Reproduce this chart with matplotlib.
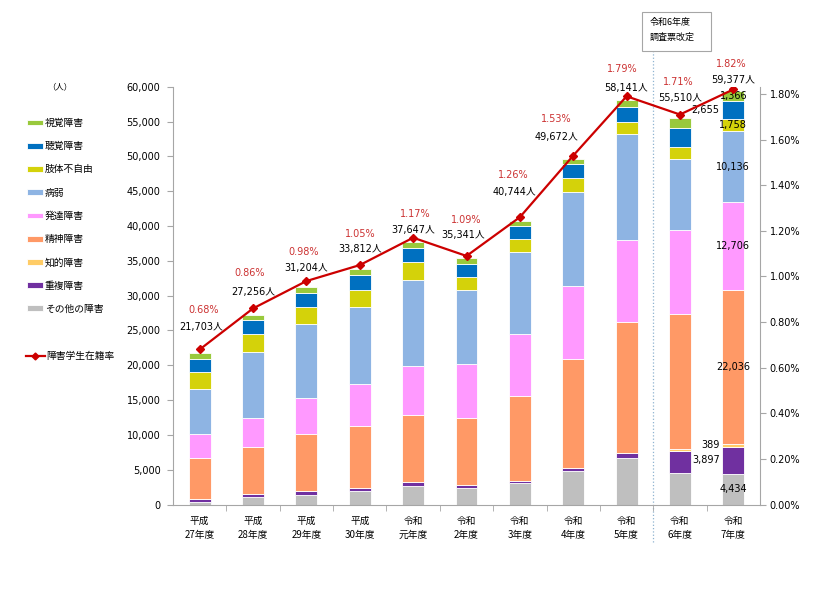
import matplotlib
matplotlib.use("Agg")
import matplotlib.pyplot as plt
from matplotlib.lines import Line2D
from matplotlib.patches import Rectangle

# ---- data ----
years = ["平成\n27年度", "平成\n28年度", "平成\n29年度", "平成\n30年度",
         "令和\n元年度", "令和\n2年度", "令和\n3年度", "令和\n4年度",
         "令和\n5年度", "令和\n6年度", "令和\n7年度"]

other = [400, 1050, 1350, 2000, 2740, 2400, 3050, 4800, 6700, 4500, 4434]
multiple = [350, 480, 570, 430, 470, 380, 380, 470, 650, 3150, 3897]
intellectual = [0, 0, 0, 0, 0, 0, 0, 0, 0, 380, 389]
mental = [5900, 6750, 8200, 8800, 9600, 9650, 12200, 15700, 18800, 19400, 22036]
developmental = [3450, 4200, 5250, 6100, 7100, 7700, 8850, 10400, 11850, 12000, 12706]
illness = [6450, 9400, 10500, 11100, 12400, 10700, 11750, 13450, 15250, 10150, 10136]
physical = [2550, 2650, 2500, 2400, 2480, 1900, 1900, 2050, 1650, 1800, 1758]
hearing = [1750, 1950, 1970, 2100, 2000, 1830, 1830, 2000, 2250, 2700, 2655]
visual = [853, 776, 864, 882, 857, 781, 784, 802, 991, 1430, 1366]

totals = [21703, 27256, 31204, 33812, 37647, 35341, 40744, 49672, 58141, 55510, 59377]
rates = [0.68, 0.86, 0.98, 1.05, 1.17, 1.09, 1.26, 1.53, 1.79, 1.71, 1.82]

series_names = ["その他の障害", "重複障害", "知的障害", "精神障害", "発達障害",
                "病弱", "肢体不自由", "聴覚障害", "視覚障害"]
series_values = [other, multiple, intellectual, mental, developmental,
                 illness, physical, hearing, visual]
series_colors = ["#BFBFBF", "#7030A0", "#FFCC66", "#FF9966", "#FF99FF",
                 "#8EB4E3", "#D4D20A", "#0070C0", "#99C93C"]
line_name = "障害学生在籍率"

# label placement (pixels, relative to line marker)
rate_dx = [3.6, -3.1, -3.2, 0.1, 1.7, 0, -6.8, -16.8, -4.2, -2, -2]
rate_dy = [39, 35, 29, 31, 24, 35.7, 42, 36.7, 27.4, 32.6, 25.6]
total_dx = [1, 0.2, 0.2, 0.1, 0, -3.4, -5.1, -16.8, -0.2, -0.3, -0.4]
total_dy = [22.3, 16.6, 12.7, 16, 8, 21, 25.3, 18.3, 8.4, 16.6, 9]
left_labels = ["重複障害", "知的障害", "聴覚障害"]  # labels put left of last bar

jp = "Noto Sans CJK JP"
num = ["DejaVu Sans", "Noto Sans CJK JP"]
gray = "#A6A6A6"
red_line = "#CC0000"
red_text = "#CC3333"
fs = 7

fig = plt.figure(figsize=(8.19, 6.04), dpi=100)
ax = fig.add_axes([173 / 819, 1 - 504.6 / 604, 587 / 819, 417.9 / 604])

x = list(range(len(years)))
bottom = [0] * len(years)
containers = []
for name, vals, col in zip(series_names, series_values, series_colors):
    c = ax.bar(x, vals, 0.41, bottom=bottom, color=col, edgecolor="white",
               linewidth=0.6, label=name, zorder=2)
    containers.append(c)
    # segment labels for latest year
    i = len(years) - 1
    if vals[i] > 0:
        ymid = bottom[i] + vals[i] / 2
        if name in left_labels:
            ax.annotate(f"{vals[i]:,}", (i - 0.205, ymid), xytext=(-2, 0),
                        textcoords="offset points", ha="right", va="center",
                        fontsize=fs, family=num, zorder=5)
        else:
            ax.annotate(f"{vals[i]:,}", (i, ymid), ha="center", va="center",
                        fontsize=fs, family=num, zorder=5)
    bottom = [b + v for b, v in zip(bottom, vals)]

ax.set_xlim(-0.5, len(years) - 0.5)
ax.set_ylim(0, 60000)
ax.set_yticks(range(0, 60001, 5000))
ax.set_yticklabels([f"{v:,}" for v in range(0, 60001, 5000)], fontsize=fs, family=num)
ax.set_xticks(x)
ax.set_xticklabels(years, fontsize=fs, family=jp, linespacing=1.5)
ax.set_xticks([v - 0.5 for v in range(1, len(years))], minor=True)
ax.tick_params(axis="x", which="major", length=0, pad=8)
ax.tick_params(axis="x", which="minor", length=4, color=gray, direction="out")
ax.tick_params(axis="y", length=4, color=gray, pad=5)
for s in ["top", "right"]:
    ax.spines[s].set_visible(False)
for s in ["left", "bottom"]:
    ax.spines[s].set_color(gray)
    ax.spines[s].set_linewidth(0.8)

ax2 = ax.twinx()
ax2.plot(x, rates, color=red_line, linewidth=1.6, marker="D", markersize=4,
         zorder=4)
ax2.set_ylim(0, 1.832)
ax2.set_yticks([v / 100 for v in range(0, 181, 20)])
ax2.set_yticklabels([f"{v / 100:.2f}%" for v in range(0, 181, 20)], fontsize=fs, family=num)
ax2.tick_params(axis="y", length=4, color=gray, pad=3)
for s in ["top", "left", "bottom"]:
    ax2.spines[s].set_visible(False)
ax2.spines["right"].set_color(gray)
ax2.spines["right"].set_linewidth(0.8)

for i in x:
    ax2.annotate(f"{rates[i]:.2f}%", (i, rates[i]),
                 xytext=(rate_dx[i] * 0.72, rate_dy[i] * 0.72), textcoords="offset points",
                 ha="center", va="center", color=red_text, fontsize=fs, family=num)
    ax2.annotate(f"{totals[i]:,}人", (i, rates[i]),
                 xytext=(total_dx[i] * 0.72, total_dy[i] * 0.72), textcoords="offset points",
                 ha="center", va="center", color="black", fontsize=fs, family=num)

# survey change marker
ax.plot([8.5, 8.5], [-0.09, 1.0854], transform=ax.get_xaxis_transform(),
        clip_on=False, color="#8FB3D0", linestyle=":", linewidth=0.9, zorder=1)
fig.patches.append(Rectangle((641.7 / 819, 1 - 51 / 604), 69 / 819, 39.3 / 604,
                             transform=fig.transFigure, facecolor="white",
                             edgecolor=gray, linewidth=0.8))
fig.text(649.3 / 819, 1 - 22.7 / 604, "令和6年度", family=jp, fontsize=6.5,
         ha="left", va="center")
fig.text(649.3 / 819, 1 - 37.7 / 604, "調査票改定", family=jp, fontsize=6.5,
         ha="left", va="center")

# legends
fig.text(60 / 819, 1 - 86.7 / 604, "（人）", family=jp, fontsize=6, ha="center", va="center")
handles = containers[::-1]
labels = series_names[::-1]
fig.legend(handles, labels, loc="upper left", bbox_to_anchor=(27 / 819, 1 - 118 / 604),
           frameon=False, prop={"family": jp, "size": fs}, handlelength=1.65,
           handleheight=0.55, handletextpad=0.2, labelspacing=1.36,
           borderpad=0, borderaxespad=0)
fig.legend([Line2D([], [], color=red_line, linewidth=1.6, marker="D", markersize=3.5)],
           [line_name], loc="upper left", bbox_to_anchor=(26 / 819, 1 - 351 / 604),
           frameon=False, prop={"family": jp, "size": fs}, handlelength=1.95,
           handletextpad=0.1, borderpad=0, borderaxespad=0)

fig.savefig("out.png", dpi=100)
